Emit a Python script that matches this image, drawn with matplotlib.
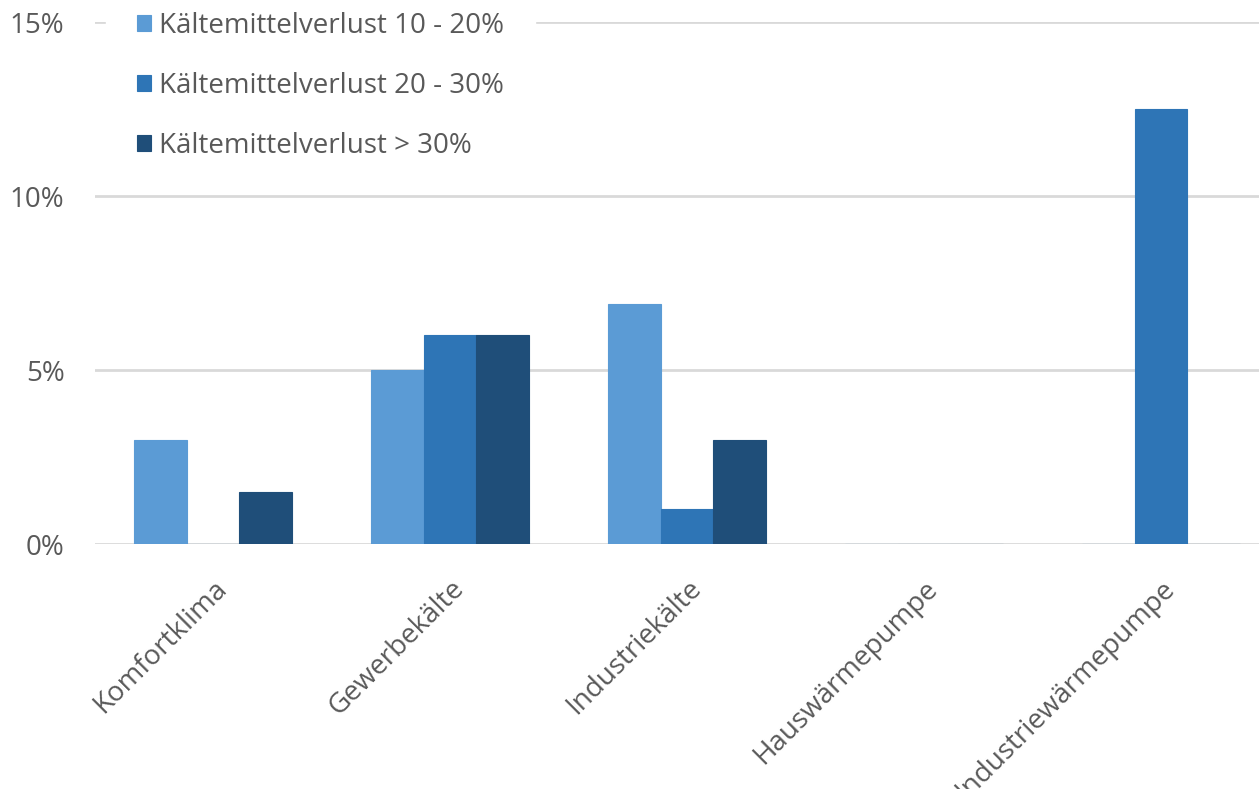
import numpy as np
import matplotlib
matplotlib.use("Agg")
import matplotlib.pyplot as plt
from matplotlib.ticker import FuncFormatter

# Anteil der Anlagen je Verlustklasse und Sektor (in %)
kategorien = ["Komfortklima", "Gewerbekälte", "Industriekälte",
              "Hauswärmepumpe", "Industriewärmepumpe"]
verlust_10_20 = [3.0, 5.0, 6.9, 0.0, 0.0]
verlust_20_30 = [0.0, 6.0, 1.0, 0.0, 12.5]
verlust_30 = [1.5, 6.0, 3.0, 0.0, 0.0]
serien = ["Kältemittelverlust 10 - 20%", "Kältemittelverlust 20 - 30%",
          "Kältemittelverlust > 30%"]
farben = ["#5B9BD5", "#2E75B6", "#1F4E79"]

plt.rcParams["font.family"] = ["Open Sans", "DejaVu Sans"]
textfarbe = "#595959"

fig = plt.figure(figsize=(12.59, 7.89), dpi=100)
ax = fig.add_axes([0.0755, 0.3105, 0.9245, 0.6616])

x = np.arange(len(kategorien))
breite = 0.2215
for i, (werte, name, farbe) in enumerate(zip([verlust_10_20, verlust_20_30, verlust_30], serien, farben)):
    ax.bar(x + (i - 1) * breite, werte, width=breite, color=farbe,
           edgecolor=farbe, linewidth=0.8, label=name, zorder=3)

ax.set_xlim(-0.498, 4.414)
ax.set_ylim(0, 15)
ax.set_yticks([0, 5, 10, 15])
ax.yaxis.set_major_formatter(FuncFormatter(lambda v, p: f"{v:.0f}%"))
ax.grid(axis="y", color="#D9D9D9", linewidth=2, zorder=0)
ax.set_axisbelow(True)
for s in ax.spines.values():
    s.set_visible(False)
ax.tick_params(axis="both", length=0, labelsize=20, labelcolor=textfarbe)
ax.tick_params(axis="y", pad=22)

ax.set_xticks(x)
ax.set_xticklabels(kategorien, rotation=45, ha="right", rotation_mode="anchor")
ax.tick_params(axis="x", pad=22)

# Legende mit weissem Hintergrund über der oberen Gitterlinie
leg = ax.legend(loc="upper left", bbox_to_anchor=(0.0098, 1.0776), frameon=True,
                fontsize=20, handlelength=0.5, handleheight=0.5,
                handletextpad=0.3, labelspacing=1.15, borderpad=1.1,
                borderaxespad=0)
leg.get_frame().set_facecolor("white")
leg.get_frame().set_edgecolor("white")
leg.get_frame().set_alpha(1)
for t in leg.get_texts():
    t.set_color(textfarbe)

fig.savefig("out.png", dpi=100, facecolor="white")
